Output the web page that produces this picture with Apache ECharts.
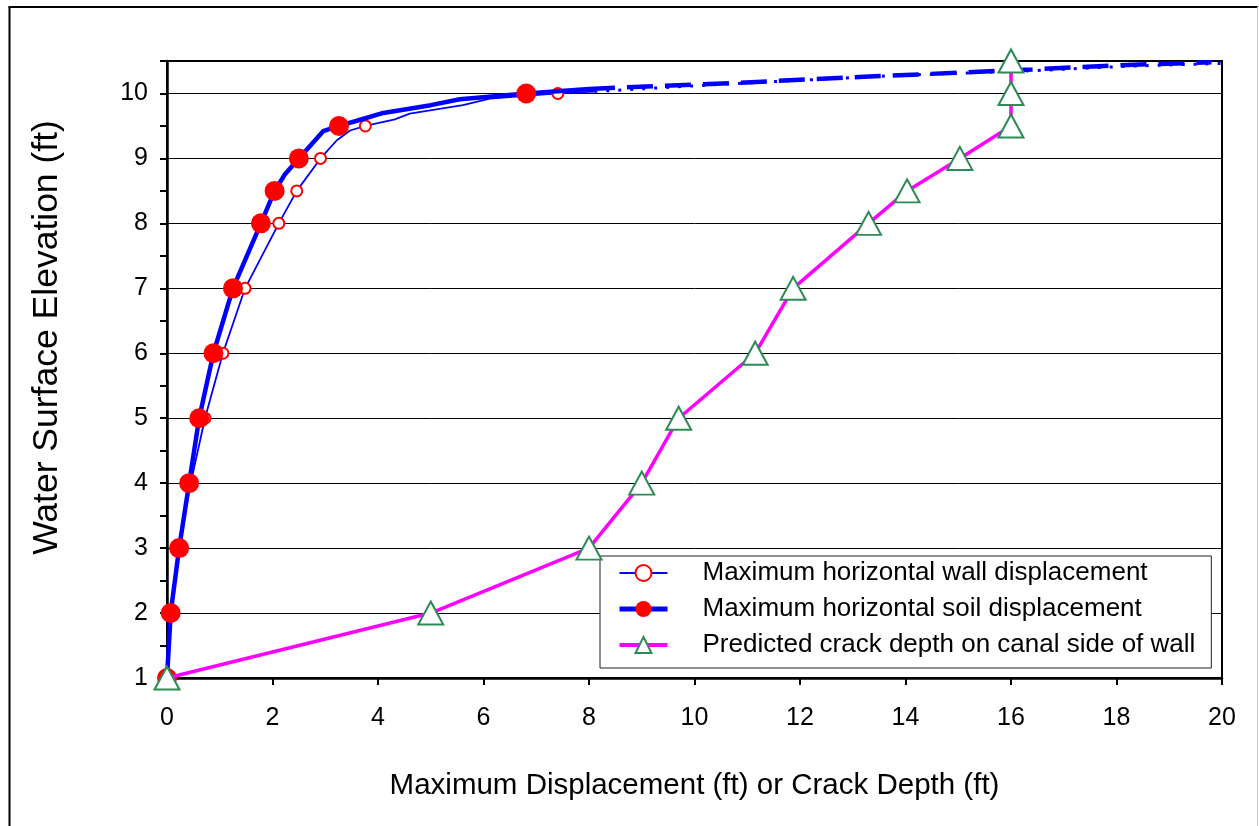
<!DOCTYPE html>
<html><head><meta charset="utf-8">
<script src="https://cdn.jsdelivr.net/npm/echarts@6/dist/echarts.min.js"></script>
<style>html,body{margin:0;padding:0;background:#fff}#c{width:1259px;height:826px}</style>
</head><body><div id="c"></div>
<script>
const seriesNames = ['Maximum horizontal wall displacement', 'Maximum horizontal soil displacement', 'Predicted crack depth on canal side of wall'];
const xTitle = 'Maximum Displacement (ft) or Crack Depth (ft)';
const yTitle = 'Water Surface Elevation (ft)';

// wall displacement curve (thin line, open markers where flag = 1)
const wallX = [0, 0.06, 0.22, 0.45, 0.72, 1.06, 1.48, 2.12, 2.46, 2.91, 3.22, 3.47, 3.76, 4.32, 4.6, 5.61, 6.12, 7.41, 8.1];
const wallY = [1, 2, 3, 4, 5, 6, 7, 8, 8.5, 9, 9.28, 9.43, 9.5, 9.6, 9.69, 9.82, 9.92, 10, 10.03];
const wallMarker = [1, 1, 1, 1, 1, 1, 1, 1, 1, 1, 0, 0, 1, 0, 0, 0, 0, 1, 0];
// soil displacement curve (thick line, filled markers where flag = 1)
const soilX = [0, 0.07, 0.23, 0.42, 0.61, 0.88, 1.25, 1.78, 2.04, 2.24, 2.5, 2.96, 3.26, 3.6, 4.1, 5.0, 5.55, 6.81, 8.0];
const soilY = [1, 2, 3, 4, 5, 6, 7, 8, 8.5, 8.76, 9, 9.42, 9.5, 9.58, 9.7, 9.82, 9.91, 10, 10.07];
const soilMarker = [1, 1, 1, 1, 1, 1, 1, 1, 1, 0, 1, 0, 1, 0, 0, 0, 0, 1, 0];
// predicted crack depth
const crackX = [0, 5, 8, 9, 9.7, 11.15, 11.87, 13.3, 14.03, 15.03, 16, 16, 16];
const crackY = [1, 2, 3, 4, 5, 6, 7, 8, 8.5, 9, 9.5, 10, 10.5];
// extrapolated (dashed / dotted) extensions
const soilExtX = [8.0, 10.7, 13.3, 16.4, 18.2, 19.8];
const soilExtY = [10.07, 10.16, 10.26, 10.37, 10.44, 10.48];
const wallExtX = [8.1, 10.7, 13.9, 16.4, 18.2, 20.3];
const wallExtY = [10.03, 10.15, 10.28, 10.35, 10.42, 10.47];

const FONT = '"Liberation Sans", Arial, sans-serif';

function curve(xs, ys, flags) {
  return xs.map((x, i) => flags && flags[i] ? { value: [x, ys[i]] } : (flags ? { value: [x, ys[i]], symbol: 'none' } : [x, ys[i]]));
}

const chart = echarts.init(document.getElementById('c'), null, { renderer: 'canvas' });
chart.setOption({
  animation: false,
  backgroundColor: '#fff',
  textStyle: { fontFamily: FONT },
  graphic: [
    { type: 'line', shape: { x1: 9.5, y1: 7, x2: 9.5, y2: 830 }, style: { stroke: '#000', lineWidth: 2 }, z: 100 },
    { type: 'line', shape: { x1: 8.5, y1: 7, x2: 1258, y2: 7 }, style: { stroke: '#000', lineWidth: 2 }, z: 100 },
    { type: 'line', shape: { x1: 1257.5, y1: 7, x2: 1257.5, y2: 830 }, style: { stroke: '#ccc', lineWidth: 1 }, z: 100 }
  ],
  grid: { left: 167, right: 37, top: 61, bottom: 148, show: true, borderColor: '#000', borderWidth: 2, backgroundColor: 'transparent' },
  legend: {
    orient: 'vertical', left: 600, top: 556,
    data: [
      { name: seriesNames[0], lineStyle: { width: 1.8 } },
      { name: seriesNames[1], lineStyle: { width: 5 } },
      { name: seriesNames[2], lineStyle: { width: 4 } }
    ],
    itemWidth: 48, itemHeight: 20, itemGap: 10,
    padding: [4, 16, 10, 17],
    backgroundColor: '#fff', borderColor: '#222', borderWidth: 1,
    textStyle: { fontFamily: FONT, fontSize: 26, lineHeight: 26, color: '#000', padding: [0, 0, 0, 30] }
  },
  xAxis: {
    type: 'value', min: 0, max: 20, interval: 2,
    name: xTitle, nameLocation: 'middle', nameGap: 93,
    nameTextStyle: { fontFamily: FONT, fontSize: 29.5, color: '#000' },
    axisLine: { show: true, lineStyle: { color: '#000', width: 2.5 } },
    axisTick: { show: true, inside: false, length: 7, lineStyle: { color: '#000', width: 2 } },
    axisLabel: { fontFamily: FONT, fontSize: 25, color: '#000', margin: 28 },
    splitLine: { show: false }
  },
  yAxis: [
    {
      type: 'value', min: 1, max: 10.5, interval: 0.5, position: 'left',
      name: yTitle, nameLocation: 'middle', nameGap: 102, nameRotate: 90,
      nameTextStyle: { fontFamily: FONT, fontSize: 35.5, color: '#000', padding: [0, 0, 0, 64] },
      axisLine: { show: true, lineStyle: { color: '#000', width: 2.5 } },
      axisTick: { show: true, inside: false, length: 7, lineStyle: { color: '#000', width: 2 } },
      axisLabel: { fontFamily: FONT, fontSize: 25, color: '#000', margin: 19,
        formatter: v => (Math.abs(v - Math.round(v)) < 1e-9 && v <= 10) ? String(Math.round(v)) : '' },
      splitLine: { show: false }
    },
    {
      type: 'value', min: 1, max: 10.5, interval: 1, position: 'left',
      axisLine: { show: false }, axisTick: { show: false }, axisLabel: { show: false },
      splitLine: { show: true, lineStyle: { color: '#000', width: 1 } }
    }
  ],
  series: [
    {
      name: seriesNames[0], type: 'line', clip: false, z: 3,
      data: curve(wallX, wallY, wallMarker),
      symbol: 'circle', symbolSize: 11, showAllSymbol: true,
      lineStyle: { color: '#0000ff', width: 1.8 },
      itemStyle: { color: '#fff', borderColor: '#ff0000', borderWidth: 2 }
    },
    {
      name: seriesNames[1], type: 'line', clip: false, z: 4,
      data: curve(soilX, soilY, soilMarker),
      symbol: 'circle', symbolSize: 20, showAllSymbol: true,
      lineStyle: { color: '#0000ff', width: 4.5 },
      itemStyle: { color: '#ff0000', borderWidth: 0 }
    },
    {
      name: seriesNames[2], type: 'line', clip: false, z: 5,
      data: curve(crackX, crackY),
      symbol: 'triangle', symbolSize: [25, 23], showAllSymbol: true,
      lineStyle: { color: '#ff00ff', width: 3.5 },
      itemStyle: { color: '#fff', borderColor: '#2e8b57', borderWidth: 2 }
    },
    {
      name: 'soil extension', type: 'line', clip: false, z: 2, symbol: 'none',
      data: curve(soilExtX, soilExtY),
      lineStyle: { color: '#0000ff', width: 4.5, type: [26, 12] }
    },
    {
      name: 'wall extension', type: 'line', clip: false, z: 2, symbol: 'none',
      data: curve(wallExtX, wallExtY),
      lineStyle: { color: '#0000ff', width: 3, type: [3, 9] }
    }
  ]
});
</script></body></html>
